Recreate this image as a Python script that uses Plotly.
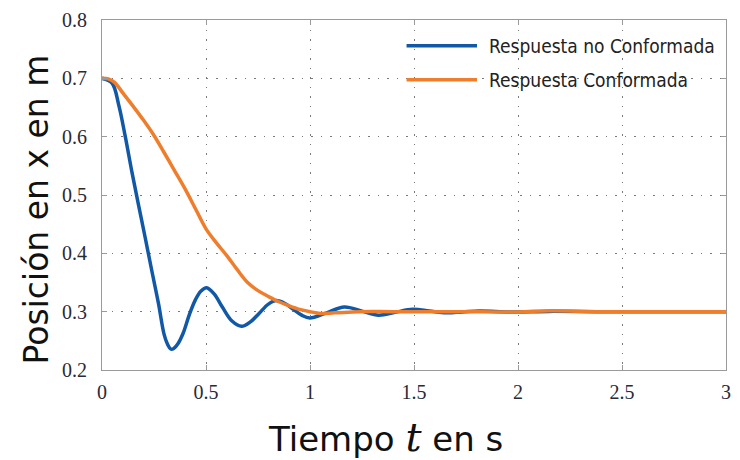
import plotly.graph_objects as go

# Data
t_blue = [0, 0.048, 0.08, 0.112, 0.143, 0.175, 0.207, 0.239, 0.271, 0.298, 0.315, 0.33, 0.345,
          0.365, 0.39, 0.42, 0.45, 0.475, 0.503, 0.54, 0.58, 0.625, 0.671, 0.715, 0.755, 0.8,
          0.839, 0.88, 0.92, 0.96, 0.999, 1.08, 1.165, 1.25, 1.33, 1.41, 1.494, 1.574, 1.654,
          1.734, 1.814, 1.97, 2.15, 2.4, 2.7, 3.0]
v_blue = [0.7, 0.692, 0.655, 0.600, 0.541, 0.484, 0.428, 0.371, 0.315, 0.262, 0.244, 0.236, 0.237,
          0.245, 0.263, 0.295, 0.321, 0.335, 0.341, 0.330, 0.307, 0.284, 0.275, 0.283, 0.297, 0.313,
          0.319, 0.314, 0.304, 0.294, 0.289, 0.298, 0.308, 0.301, 0.294, 0.299, 0.304, 0.301, 0.298,
          0.2995, 0.301, 0.2995, 0.3005, 0.3, 0.3, 0.3]

t_orange = [0, 0.03, 0.06, 0.1, 0.15, 0.2, 0.25, 0.3, 0.35, 0.4, 0.45, 0.5, 0.55, 0.6, 0.65, 0.7,
            0.75, 0.8, 0.85, 0.9, 0.95, 1.0, 1.05, 1.12, 1.24, 1.4, 1.7, 2.0, 2.15, 2.4, 3.0]
v_orange = [0.7, 0.699, 0.693, 0.675, 0.652, 0.628, 0.602, 0.572, 0.541, 0.510, 0.476, 0.442, 0.418,
            0.396, 0.372, 0.350, 0.336, 0.326, 0.317, 0.310, 0.304, 0.300, 0.297, 0.298, 0.300,
            0.300, 0.300, 0.2995, 0.3015, 0.300, 0.300]

series_names = ["Respuesta no Conformada", "Respuesta Conformada"]
series_colors = ["#1159A6", "#EF7E2C"]

x_ticks = [0, 0.5, 1, 1.5, 2, 2.5, 3]
x_ticklabels = ["0", "0.5", "1", "1.5", "2", "2.5", "3"]
y_ticks = [0.2, 0.3, 0.4, 0.5, 0.6, 0.7, 0.8]
y_ticklabels = ["0.2", "0.3", "0.4", "0.5", "0.6", "0.7", "0.8"]

fig = go.Figure()
fig.add_trace(go.Scatter(x=t_blue, y=v_blue, mode="lines", name=series_names[0],
                         line=dict(color=series_colors[0], width=3.5, shape="spline", smoothing=1.0),
                         showlegend=False))
fig.add_trace(go.Scatter(x=t_orange, y=v_orange, mode="lines", name=series_names[1],
                         line=dict(color=series_colors[1], width=3.5, shape="spline", smoothing=1.0),
                         showlegend=False))

L, R, T, B = 102, 9, 18, 90
W, H = 740, 460
pw, ph = W - L - R, H - T - B

def px_x(x):
    return (x - L) / pw

def px_y(y):
    return (H - B - y) / ph

shapes = []
annotations = []
# white box behind legend text
shapes.append(dict(type="rect", xref="paper", yref="paper", layer="between",
                   x0=px_x(486), x1=px_x(726), y0=px_y(95), y1=px_y(30),
                   fillcolor="white", line=dict(width=0)))
leg_y = [44, 78]
for name, col, yy in zip(series_names, series_colors, leg_y):
    shapes.append(dict(type="line", xref="paper", yref="paper",
                       x0=px_x(409), x1=px_x(480), y0=px_y(yy), y1=px_y(yy),
                       line=dict(color=col, width=3.5)))
    annotations.append(dict(xref="paper", yref="paper", x=px_x(490), y=px_y(yy),
                            xanchor="left", yanchor="middle", showarrow=False, text=name,
                            font=dict(family="DejaVu Sans Condensed", size=19, color="#222222")))

# axis titles
annotations.append(dict(xref="paper", yref="paper", x=px_x(388), y=px_y(437),
                        xanchor="center", yanchor="middle", showarrow=False,
                        text="Tiempo <span style=\"font-family:DejaVu Serif;font-style:italic;font-size:40px\">t</span> en s",
                        font=dict(family="DejaVu Sans", size=34, color="#111111")))
annotations.append(dict(xref="paper", yref="paper", x=px_x(36), y=px_y(209),
                        xanchor="center", yanchor="middle", showarrow=False, textangle=-90,
                        text="Posición en x en m",
                        font=dict(family="DejaVu Sans", size=33, color="#111111")))

fig.update_layout(
    width=W, height=H,
    margin=dict(l=L, r=R, t=T, b=B),
    paper_bgcolor="white", plot_bgcolor="white",
    shapes=shapes, annotations=annotations,
    showlegend=False,
)
axis_common = dict(
    showgrid=True, gridcolor="#7a7a7a", gridwidth=1, griddash="1.5px,8px",
    showline=True, linecolor="#9a9a9a", linewidth=1, mirror="ticks",
    ticks="inside", ticklen=5, tickcolor="#9a9a9a",
    tickfont=dict(family="Liberation Serif", size=20, color="#2a2a35"),
    zeroline=False,
)
fig.update_xaxes(range=[0, 3], tickvals=x_ticks, ticktext=x_ticklabels,
                 ticklabelstandoff=4, **axis_common)
fig.update_yaxes(range=[0.2, 0.8], tickvals=y_ticks, ticktext=y_ticklabels,
                 ticklabelstandoff=10, **axis_common)

fig.write_html("out.html")
